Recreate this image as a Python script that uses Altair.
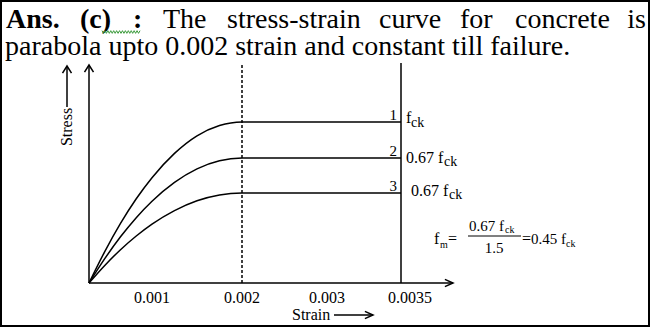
import altair as alt
import pandas as pd

# ---------------- data ----------------
strain = [0, 0.00025, 0.0005, 0.00075, 0.001, 0.00125, 0.0015, 0.00175, 0.002, 0.0035]
curve1 = [0, 0.195, 0.37, 0.523, 0.654, 0.805, 0.914, 0.978, 1.0, 1.0]
curve2 = [0, 0.151, 0.287, 0.406, 0.508, 0.625, 0.709, 0.759, 0.776, 0.776]
curve3 = [0, 0.109, 0.207, 0.292, 0.366, 0.45, 0.511, 0.547, 0.559, 0.559]
curve_ids = ["1", "2", "3"]
curve_prefix = ["f", "0.67 f", "0.67 f"]
plateau = [1.0, 0.776, 0.559]

tick_values = [0.001, 0.002, 0.003, 0.0035]
tick_labels = ["0.001", "0.002", "0.003", "0.0035"]

axis_top = 1.354
guide_top = 1.366
x_end = 0.00386

title_words_1 = ["Ans.", "(c)", ":", "The", "stress-strain", "curve", "for", "concrete", "is"]
title_bold_1 = [True, True, True, False, False, False, False, False, False]
title_line_2 = "parabola upto 0.002 strain and constant till failure."

# ---------------- layout ----------------
W, H = 653, 331
FONT = "Liberation Serif"
word_x = [6, 80, 133, 163, 227, 379, 460, 515, 646]

xs = alt.Scale(domain=[0, 0.001, 0.002, 0.003, 0.0035, x_end],
               range=[89, 152, 242, 327, 401, 453], nice=False, zero=False)
ys = alt.Scale(domain=[0, 1], range=[283, 122], nice=False, zero=False)

rows = []
for cid, vals in zip(curve_ids, [curve1, curve2, curve3]):
    for s, v in zip(strain, vals):
        rows.append({"strain": s, "stress": v, "curve": cid})
curves_df = pd.DataFrame(rows)

one = pd.DataFrame({"a": [0]})
layers = []

# border
layers.append(alt.Chart(one).mark_rect(filled=False, stroke="black", strokeWidth=2).encode(
    x=alt.value(1), x2=alt.value(649), y=alt.value(1), y2=alt.value(326)))

# curves
layers.append(alt.Chart(curves_df).mark_line(color="black", strokeWidth=1.5, interpolate="monotone").encode(
    x=alt.X("strain:Q", scale=xs, axis=None),
    y=alt.Y("stress:Q", scale=ys, axis=None),
    detail="curve:N"))

# axes lines
layers.append(alt.Chart(pd.DataFrame({"x": [0], "y0": [0], "y1": [axis_top]})).mark_rule(
    color="black", strokeWidth=1.5).encode(
    x=alt.X("x:Q", scale=xs), y=alt.Y("y0:Q", scale=ys), y2="y1:Q"))
layers.append(alt.Chart(pd.DataFrame({"x0": [0], "x1": [x_end], "y": [0]})).mark_rule(
    color="black", strokeWidth=1.5).encode(
    x=alt.X("x0:Q", scale=xs), x2="x1:Q", y=alt.Y("y:Q", scale=ys)))

# arrowheads on axes
up_arrow = "M-0.5,0.8 L0,0 L0.5,0.8"
right_arrow = "M-0.9,-0.4 L0,0 L-0.9,0.4"
layers.append(alt.Chart(pd.DataFrame({"x": [0], "y": [axis_top]})).mark_point(
    shape=up_arrow, size=324, filled=False, stroke="black", strokeWidth=1.5, opacity=1).encode(
    x=alt.X("x:Q", scale=xs), y=alt.Y("y:Q", scale=ys)))
layers.append(alt.Chart(pd.DataFrame({"x": [x_end], "y": [0]})).mark_point(
    shape=right_arrow, size=324, filled=False, stroke="black", strokeWidth=1.5, opacity=1).encode(
    x=alt.X("x:Q", scale=xs), y=alt.Y("y:Q", scale=ys)))

# dashed line at 0.002 and solid at 0.0035
layers.append(alt.Chart(pd.DataFrame({"x": [0.002], "y0": [0], "y1": [guide_top]})).mark_rule(
    color="black", strokeWidth=1.5, strokeDash=[3, 2]).encode(
    x=alt.X("x:Q", scale=xs), y=alt.Y("y0:Q", scale=ys), y2="y1:Q"))
layers.append(alt.Chart(pd.DataFrame({"x": [0.0035], "y0": [0], "y1": [guide_top]})).mark_rule(
    color="black", strokeWidth=1.5).encode(
    x=alt.X("x:Q", scale=xs), y=alt.Y("y0:Q", scale=ys), y2="y1:Q"))

# tick labels
ticks_df = pd.DataFrame({"v": tick_values, "t": tick_labels, "y": [0] * len(tick_values)})
layers.append(alt.Chart(ticks_df).transform_filter("datum.v < 0.0035").mark_text(
    font=FONT, fontSize=16, baseline="middle", align="center", dy=15).encode(
    x=alt.X("v:Q", scale=xs), y=alt.Y("y:Q", scale=ys), text="t:N"))
layers.append(alt.Chart(ticks_df).transform_filter("datum.v >= 0.0035").mark_text(
    font=FONT, fontSize=16, baseline="middle", align="center", dy=15, dx=9).encode(
    x=alt.X("v:Q", scale=xs), y=alt.Y("y:Q", scale=ys), text="t:N"))

# curve labels
lab_df = pd.DataFrame({"x": [0.0035] * 3, "y": plateau, "id": curve_ids})
layers.append(alt.Chart(lab_df).mark_text(
    font=FONT, fontSize=15, align="right", baseline="alphabetic", dx=-4, dy=-2).encode(
    x=alt.X("x:Q", scale=xs), y=alt.Y("y:Q", scale=ys), text="id:N"))
pre_dx = [5, 5, 10]
pre_dy = [1, 5, 3]
sub_dx = [10, 43, 48]
sub_dy = [5, 8, 6]
for i in range(3):
    d = pd.DataFrame({"x": [0.0035], "y": [plateau[i]], "p": [curve_prefix[i]], "s": ["ck"]})
    layers.append(alt.Chart(d).mark_text(
        font=FONT, fontSize=16, align="left", baseline="alphabetic", dx=pre_dx[i], dy=pre_dy[i]).encode(
        x=alt.X("x:Q", scale=xs), y=alt.Y("y:Q", scale=ys), text="p:N"))
    layers.append(alt.Chart(d).mark_text(
        font=FONT, fontSize=14, align="left", baseline="alphabetic", dx=sub_dx[i], dy=sub_dy[i]).encode(
        x=alt.X("x:Q", scale=xs), y=alt.Y("y:Q", scale=ys), text="s:N"))

# axis titles with arrows
def txt(t, x, y, size, align="left", weight="normal", angle=0, baseline="alphabetic"):
    return alt.Chart(one).mark_text(font=FONT, fontSize=size, align=align, baseline=baseline,
                                    fontWeight=weight, angle=angle, color="black").encode(
        x=alt.value(x), y=alt.value(y), text=alt.value(t))

def seg(x1, y1, x2, y2, w=1.5):
    return alt.Chart(one).mark_rule(color="black", strokeWidth=w).encode(
        x=alt.value(x1), y=alt.value(y1), x2=alt.value(x2), y2=alt.value(y2))

def head(path, x, y):
    return alt.Chart(one).mark_point(shape=path, size=324, filled=False, stroke="black",
                                     strokeWidth=1.5, opacity=1).encode(x=alt.value(x), y=alt.value(y))

layers.append(txt("Stress", 72, 127, 16, align="center", angle=270, baseline="alphabetic"))
layers.append(seg(67, 107, 67, 66))
layers.append(head(up_arrow, 67, 66))
layers.append(txt("Strain", 292, 320, 16))
layers.append(seg(334, 315, 373, 315))
layers.append(head(right_arrow, 373, 315))

# formula
layers.append(txt("f", 434, 244, 16))
layers.append(txt("m", 440, 248, 10))
layers.append(txt("=", 448, 244, 16))
layers.append(txt("0.67 f", 469, 231, 15))
layers.append(txt("ck", 505, 233, 10))
layers.append(seg(468, 236, 521, 236, 1))
layers.append(txt("1.5", 494, 253, 15, align="center"))
layers.append(txt("=", 522, 244, 16))
layers.append(txt("0.45 f", 531, 244, 15))
layers.append(txt("ck", 566, 247, 10))

# title
for w, b, x in zip(title_words_1, title_bold_1, word_x):
    layers.append(txt(w, x, 28, 28, align="right" if w == "is" else "left",
                      weight="bold" if b else "normal"))
layers.append(txt(title_line_2, 5, 55, 28))

# spell-check squiggle
n = 26
pts = " ".join(f"L{-1 + 2 * i / n:.3f},{(0.07 if i % 2 else -0.07):.2f}" for i in range(1, n + 1))
squiggle = f"M-1,-0.07 {pts}"
layers.append(alt.Chart(one).mark_point(shape=squiggle, size=1444, filled=False, stroke="#3a9a3a",
                                        strokeWidth=1, opacity=1).encode(x=alt.value(121), y=alt.value(32)))

chart = alt.layer(*layers).properties(
    width=W, height=H, padding=0, autosize=alt.AutoSizeParams(type="none"), background="white"
).configure_view(stroke=None)

chart.save("out.html", embed_options={"renderer": "svg", "actions": False})
